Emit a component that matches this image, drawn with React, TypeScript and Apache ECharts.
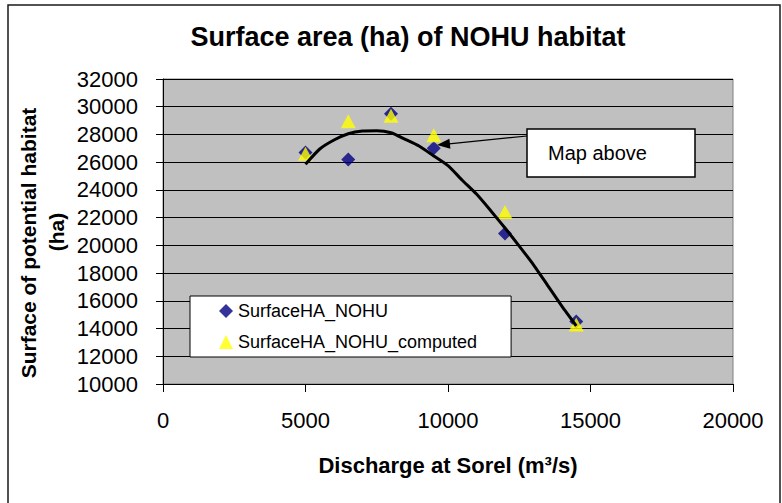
import React, { useEffect, useRef } from "react";
import * as echarts from "echarts";

const discharge = [5000, 6500, 8000, 9500, 12000, 14500];
const surfaceObserved = [26700, 26200, 29500, 27000, 20850, 14500];
const surfaceComputed = [26600, 28950, 29350, 27950, 22400, 14300];

const trendX = [5000, 5500, 6000, 6500, 7000, 7500, 8000, 8500, 9000, 9500, 10000, 10500, 11000, 11500, 12000, 12500, 13000, 13500, 14000, 14500];
const trendY = [25850, 26950, 27600, 28050, 28250, 28270, 28120, 27650, 27150, 26450, 25750, 24700, 23700, 22500, 21250, 19950, 18600, 17100, 15600, 14200];

const yTicks = { min: 10000, max: 32000, interval: 2000 };
const xTicks = { min: 0, max: 20000, interval: 5000 };

const FONT = 'Arial, "Liberation Sans", sans-serif';

export default function App() {
  const ref = useRef<HTMLDivElement>(null);
  useEffect(() => {
    if (!ref.current) return;
    const chart = echarts.init(ref.current, undefined, { renderer: "svg" });
    const obs = discharge.map((x, i) => [x, surfaceObserved[i]]);
    const comp = discharge.map((x, i) => [x, surfaceComputed[i]]);
    const trend = trendX.map((x, i) => [x, trendY[i]]);
    chart.setOption({
      animation: false,
      backgroundColor: "#ffffff",
      title: {
        text: "Surface area (ha) of NOHU habitat",
        left: 408,
        top: 23,
        textAlign: "center",
        padding: 0,
        textStyle: { fontFamily: FONT, fontWeight: "bold", fontSize: 27, color: "#000" },
      },
      grid: {
        left: 163,
        right: 49,
        top: 79,
        bottom: 119,
        show: true,
        backgroundColor: "#c0c0c0",
        borderColor: "#808080",
        borderWidth: 1,
      },
      xAxis: {
        type: "value",
        min: xTicks.min,
        max: xTicks.max,
        interval: xTicks.interval,
        name: "Discharge at Sorel (m³/s)",
        nameLocation: "middle",
        nameGap: 70,
        nameTextStyle: { fontFamily: FONT, fontWeight: "bold", fontSize: 22, color: "#000" },
        axisLine: { show: true, onZero: false, lineStyle: { color: "#000", width: 1 } },
        axisTick: { show: true, inside: false, length: 8, lineStyle: { color: "#000" } },
        axisLabel: { margin: 25, fontFamily: FONT, fontSize: 22, color: "#000", formatter: (v: number) => String(v) },
        splitLine: { show: false },
      },
      yAxis: {
        type: "value",
        min: yTicks.min,
        max: yTicks.max,
        interval: yTicks.interval,
        axisLine: { show: true, onZero: false, lineStyle: { color: "#000", width: 1 } },
        axisTick: { show: true, inside: false, length: 7, lineStyle: { color: "#000" } },
        axisLabel: { margin: 25, fontFamily: FONT, fontSize: 22, color: "#000", formatter: (v: number) => String(v) },
        splitLine: { show: true, lineStyle: { color: "#000", width: 1 } },
      },
      legend: {
        data: ["SurfaceHA_NOHU", "SurfaceHA_NOHU_computed"],
        orient: "vertical",
        left: 190,
        top: 296,
        padding: [6, 34, 6, 29],
        itemGap: 13,
        itemWidth: 14,
        itemHeight: 14,
        backgroundColor: "#ffffff",
        borderColor: "#000",
        borderWidth: 1,
        textStyle: { fontFamily: FONT, fontSize: 18, color: "#000", lineHeight: 18 },
      },
      series: [
        {
          name: "SurfaceHA_NOHU",
          type: "scatter",
          data: obs,
          symbol: "diamond",
          symbolSize: 14,
          itemStyle: { color: "#000080" },
          z: 2,
        },
        {
          name: "SurfaceHA_NOHU_computed",
          type: "scatter",
          data: comp,
          symbol: "triangle",
          symbolSize: [15, 14],
          itemStyle: { color: "#ffff00" },
          z: 3,
        },
        {
          name: "trend",
          type: "line",
          data: trend,
          showSymbol: false,
          symbol: "none",
          smooth: 0.2,
          lineStyle: { color: "#000", width: 3 },
          z: 4,
          silent: true,
        },
      ],
      graphic: [
        {
          type: "rect",
          shape: { x: 8, y: 5, width: 772, height: 600 },
          style: { fill: "none", stroke: "#1a1a1a", lineWidth: 1.5 },
          silent: true,
          z: 0,
        },
        {
          type: "text",
          x: 28,
          y: 243,
          rotation: Math.PI / 2,
          style: { text: "Surface of potential habitat", fontFamily: FONT, fontWeight: "bold", fontSize: 21, fill: "#000", align: "center", verticalAlign: "middle" },
          z: 5,
        },
        {
          type: "text",
          x: 56,
          y: 232,
          rotation: Math.PI / 2,
          style: { text: "(ha)", fontFamily: FONT, fontWeight: "bold", fontSize: 21, fill: "#000", align: "center", verticalAlign: "middle" },
          z: 5,
        },
        {
          type: "line",
          shape: { x1: 527, y1: 136, x2: 449, y2: 143.8 },
          style: { stroke: "#000", lineWidth: 1.2 },
          z: 10,
        },
        {
          type: "polygon",
          shape: { points: [[437, 145], [450.4, 148.7], [449.4, 138.7]] },
          style: { fill: "#000" },
          z: 10,
        },
        {
          type: "rect",
          shape: { x: 527, y: 129, width: 168, height: 48 },
          style: { fill: "#ffffff", stroke: "#000", lineWidth: 1.5 },
          z: 10,
        },
        {
          type: "text",
          x: 548,
          y: 153,
          style: { text: "Map above", fontFamily: FONT, fontSize: 20, fill: "#000", align: "left", verticalAlign: "middle" },
          z: 11,
        },
      ],
    });
    return () => chart.dispose();
  }, []);
  return (
    <div
      ref={ref}
      style={{ position: "fixed", left: 0, top: 0, width: 782, height: 503, background: "#fff" }}
    />
  );
}
